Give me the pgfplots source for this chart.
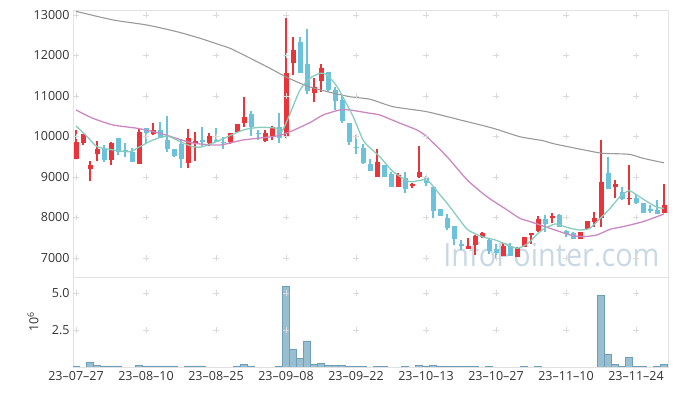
\documentclass[border=0pt]{standalone}
\usepackage{fontspec}
\setmainfont{Open Sans}
\usepackage{pgfplots}
\usepackage{pgfplotstable}
\pgfplotsset{compat=1.18}

\definecolor{upred}{HTML}{EB333A}
\definecolor{downblue}{HTML}{6CC2DA}
\definecolor{magreen}{HTML}{88CCBE}
\definecolor{mapurple}{HTML}{CC88C0}
\definecolor{magray}{HTML}{999999}
\definecolor{volfill}{HTML}{98BED0}
\definecolor{voldraw}{HTML}{6E9FBA}
\definecolor{wmark}{HTML}{C8D8E4}
\definecolor{framec}{HTML}{E2E2E2}
\definecolor{gridc}{HTML}{DADADA}

% up candles (close >= open): i open high low close
\pgfplotstableread{
i o h l c
0 9450 10160 9450 9870
1 9830 10060 9790 10060
2 9200 9395 8910 9300
3 9575 9900 9395 9685
5 9430 9870 9290 9850
9 9315 10200 9315 10120
11 10055 10325 10030 10160
16 9340 10180 9215 9955
17 9850 10120 9395 9890
19 9835 10095 9765 10015
22 9870 10095 9815 10095
23 10105 10310 10105 10310
24 10340 10985 10245 10475
27 9900 10160 9870 10080
28 9995 10260 9915 10225
30 9990 12930 9960 11575
31 11810 12450 11530 12135
34 11080 11450 10855 11215
35 11380 11790 11100 11685
43 9010 9685 8995 9380
46 8761 9100 8761 9040
48 8790 8844 8721 8827
49 8993 9773 8968 9116
56 7225 7500 7225 7300
57 7310 7568 7074 7543
58 7526 7650 7487 7625
61 7050 7363 7040 7297
63 7032 7280 7032 7240
64 7264 7526 7264 7526
65 7568 7625 7346 7610
66 7675 8037 7650 7963
68 7990 8100 7856 8040
72 7462 7642 7462 7642
73 7724 7906 7724 7906
74 7889 8144 7773 7988
75 7980 9914 7773 8873
77 8745 8926 8474 8827
79 8449 9296 8309 8489
84 8104 8827 8104 8309
}\up

% down candles (close < open)
\pgfplotstableread{
i o h l c
4 9685 9790 9365 9420
6 9960 9960 9540 9610
7 9660 9835 9500 9610
8 9625 9710 9380 9380
10 10210 10210 9835 10080
12 10160 10350 9955 9970
13 9915 10505 9625 9700
14 9690 9690 9490 9530
15 9810 9930 9215 9445
18 9890 10225 9750 9870
20 9895 10200 9855 9870
21 9870 9995 9685 9835
25 10555 10640 10015 10225
26 10080 10160 9915 10055
29 10225 10570 9850 9955
32 12335 12450 11575 11575
33 11790 12650 11040 11130
36 11595 11595 11100 11140
37 11155 11215 10645 10885
38 10900 11025 10340 10390
39 10325 10325 9800 9870
40 9750 10040 9560 9710
41 9710 9815 9325 9340
42 9320 9437 9160 9160
44 9296 9296 9008 9008
45 9074 9131 8761 8761
47 8968 9131 8613 8696
50 8993 9025 8778 8844
51 8761 8761 7980 8168
52 8202 8202 8037 8037
53 7980 8087 7692 7749
54 7790 7790 7320 7460
55 7340 7440 7200 7300
59 7445 7487 7100 7181
60 7222 7340 7010 7132
62 7297 7363 7040 7050
67 7963 8062 7650 7840
69 8062 8087 7758 7773
70 7667 7692 7511 7593
71 7610 7640 7462 7462
76 9100 9495 8696 8696
78 8637 8761 8432 8449
80 8474 8556 8334 8350
81 8366 8366 8104 8104
82 8202 8309 8119 8168
83 8185 8432 8087 8087
}\down

% 5-day moving average
\pgfplotstableread{
x y
0 10260
1.6 9995
3 9750
5.3 9667
7.7 9625
9.1 9748
11 9914
13 10013
14.9 9872
16.7 9748
18.1 9748
20.6 9914
23.9 10161
26.3 10227
28.7 10203
29.4 10119
30.6 10573
32 11148
33.4 11437
34.9 11561
35.9 11519
37.3 11230
38.1 10983
39.6 10489
41 9914
42 9720
43.4 9501
45.3 9131
47.7 8884
50.1 8926
52 8560
53.4 8267
54.9 7920
56 7692
58 7526
59.9 7445
61.7 7321
63.1 7240
64.6 7363
66 7610
67 7734
68.4 7840
69.1 7815
70.6 7734
72 7692
73.4 7734
74.9 7980
76.3 8227
77.7 8514
79 8662
80.1 8556
81.6 8390
83 8252
84 8227
}\maA

% 20-day moving average
\pgfplotstableread{
x y
0 10655
2.4 10450
5.3 10284
8.7 10203
12 10079
15.9 9872
17.7 9815
20.6 9790
23.9 9914
28.7 10013
30.6 10119
33.4 10341
35.3 10531
37.7 10655
39.1 10655
42 10573
43.4 10531
46.3 10326
48.7 10161
50.1 9995
53 9501
55.9 8926
58.7 8514
61.6 8185
63.4 7980
64.9 7897
67.7 7734
70.6 7568
72.4 7526
74.4 7568
76.3 7709
78.1 7773
81 7897
84 8087
}\maB

% 60-day moving average
\pgfplotstableread{
x y
0 13090
5.3 12877
10.1 12753
14.4 12588
17.7 12425
20.6 12259
22 12178
24.9 11931
27.7 11684
30.1 11462
33 11247
35.9 11106
39.1 10983
42 10919
45.3 10736
50.1 10612
54.9 10408
59.6 10203
63.4 9995
66.7 9897
68.4 9815
73.4 9640
75.3 9585
79 9560
81 9462
84 9350
}\maC

% volume (millions)
\pgfplotstableread{
i v
0 0.07
2 0.34
3 0.13
4 0.07
5 0.07
6 0.07
9 0.13
10 0.07
11 0.07
12 0.07
13 0.07
14 0.07
16 0.07
17 0.07
18 0.07
23 0.07
24 0.20
25 0.07
29 0.07
30 5.47
31 1.22
32 0.59
33 1.76
34 0.20
35 0.25
36 0.13
37 0.13
38 0.13
39 0.05
40 0.05
41 0.05
43 0.05
44 0.05
47 0.05
49 0.13
50 0.05
51 0.13
52 0.05
53 0.05
54 0.05
55 0.05
56 0.05
57 0.05
59 0.05
64 0.05
66 0.05
75 4.86
76 0.88
77 0.18
78 0.05
79 0.65
80 0.05
81 0.05
83 0.05
84 0.18
}\vol

\begin{document}
\begin{tikzpicture}
\path[use as bounding box] (0,0) rectangle (677bp,396bp);

\pgfplotsset{
  chartbase/.style={
    scale only axis, width=595bp, anchor=south west,
    xmin=-0.43, xmax=84.57,
    axis line style={draw=framec},
    major tick length=0pt,
    tick label style={font=\fontsize{12.5bp}{15bp}\selectfont, text=black!80},
    scaled y ticks=false,
    /pgf/number format/assume math mode=true,
    /pgf/number format/1000 sep={},
    clip=true,
  },
  candle/.style 2 args={draw=none, mark=none, forget plot,
    error bars/.cd, y dir=plus, y explicit, error mark=none,
    error bar style={solid, line width=#1, draw=#2}},
}

% ---------- price panel ----------
\begin{axis}[chartbase,
  at={(73bp,119bp)}, height=267bp,
  ymin=6531, ymax=13123,
  xtick=\empty,
  ytick={7000,8000,...,13000},
]
\node[text=wmark, font=\fontsize{32bp}{36bp}\selectfont, xscale=0.9, anchor=center]
  at (rel axis cs:0.804,0.083) {InfoPointer.com};
\pgfplotsinvokeforeach{7000,8000,...,13000}{
  \addplot[only marks, mark=+, mark size=2.6bp, color=gridc, forget plot]
    coordinates {(0,#1)(10,#1)(20,#1)(30,#1)(40,#1)(50,#1)(60,#1)(70,#1)(80,#1)};
}
% wicks
\addplot[candle={1.1bp}{upred}]
  table[x=i, y=l, y error plus expr=\thisrow{h}-\thisrow{l}] {\up};
\addplot[candle={1.1bp}{downblue}]
  table[x=i, y=l, y error plus expr=\thisrow{h}-\thisrow{l}] {\down};
% bodies
\addplot[candle={5bp}{upred}]
  table[x=i, y=o, y error plus expr={max(\thisrow{c}-\thisrow{o},40)}] {\up};
\addplot[candle={5bp}{downblue}]
  table[x=i, y=c, y error plus expr={max(\thisrow{o}-\thisrow{c},40)}] {\down};
% moving averages
\addplot[magray, line width=1.1bp, smooth, tension=0.4, mark=none] table[x=x,y=y] {\maC};
\addplot[mapurple, line width=1.3bp, smooth, tension=0.4, mark=none] table[x=x,y=y] {\maB};
\addplot[magreen, line width=1.3bp, smooth, tension=0.4, mark=none] table[x=x,y=y] {\maA};
\end{axis}

% ---------- volume panel ----------
\begin{axis}[chartbase,
  at={(73bp,29bp)}, height=90bp,
  ymin=0, ymax=6.08,
  ytick={2.5,5},
  yticklabel style={/pgf/number format/fixed, /pgf/number format/precision=1,
                    /pgf/number format/fixed zerofill},
  xtick={0,10,...,80},
  xticklabels={23--07--27,23--08--10,23--08--25,23--09--08,23--09--22,23--10--13,23--10--27,23--11--10,23--11--24},
  xticklabel style={yshift=-1bp},
  ylabel={10\textsuperscript{6}},
  ylabel style={at={(axis description cs:-0.0672,0.5)}, anchor=center,
                font=\fontsize{12.5bp}{15bp}\selectfont, text=black!80},
]
\pgfplotsinvokeforeach{2.5,5}{
  \addplot[only marks, mark=+, mark size=2.6bp, color=gridc, forget plot]
    coordinates {(0,#1)(10,#1)(20,#1)(30,#1)(40,#1)(50,#1)(60,#1)(70,#1)(80,#1)};
}
\addplot[ybar, bar width=1, fill=volfill, draw=voldraw, line width=0.6bp]
  table[x=i, y=v] {\vol};
\end{axis}
\end{tikzpicture}
\end{document}
